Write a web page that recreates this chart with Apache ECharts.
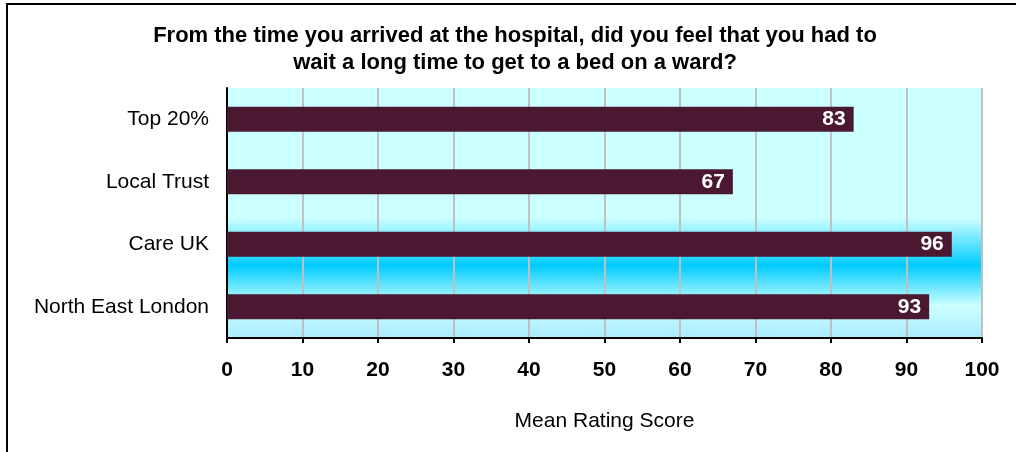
<!DOCTYPE html>
<html>
<head>
<meta charset="utf-8">
<script src="https://cdn.jsdelivr.net/npm/echarts@6/dist/echarts.min.js"></script>
<style>
  html, body { margin: 0; padding: 0; background: #fff; }
  #chart { width: 1016px; height: 452px; }
</style>
</head>
<body>
<div id="chart"></div>
<script>
// categories listed bottom-to-top (category y axis starts at the bottom)
const categories = ['North East London', 'Care UK', 'Local Trust', 'Top 20%'];
const scores = [93, 96, 67, 83];
const xMin = 0;
const xMax = 100;
const xStep = 10;

const font = "'Liberation Sans', Arial, sans-serif";

var chart = echarts.init(document.getElementById('chart'));

chart.setOption({
    animation: false,
    title: {
        text: 'From the time you arrived at the hospital, did you feel that you had to\nwait a long time to get to a bed on a ward?',
        left: 515,
        top: 22,
        padding: 0,
        textAlign: 'center',
        textStyle: {
            fontFamily: font,
            fontSize: 22,
            fontWeight: 'bold',
            color: '#000',
            lineHeight: 27
        }
    },
    graphic: [
        {
            type: 'rect',
            shape: { x: 7, y: 4, width: 1200, height: 600 },
            style: { fill: 'none', stroke: '#000', lineWidth: 2 },
            silent: true
        }
    ],
    grid: {
        left: 227,
        right: 34,
        top: 88,
        bottom: 114,
        show: true,
        borderWidth: 0,
        backgroundColor: new echarts.graphic.LinearGradient(0, 0, 0, 1, [
            { offset: 0, color: '#ccffff' },
            { offset: 0.52, color: '#ccffff' },
            { offset: 0.71, color: '#00ccff' },
            { offset: 0.87, color: '#ccffff' },
            { offset: 1, color: '#a8ecff' }
        ])
    },
    xAxis: {
        type: 'value',
        min: xMin,
        max: xMax,
        interval: xStep,
        name: 'Mean Rating Score',
        nameLocation: 'middle',
        nameGap: 73,
        nameTextStyle: { fontFamily: font, fontSize: 21, color: '#000' },
        axisLine: { show: true, lineStyle: { color: '#000', width: 2 } },
        axisTick: { show: true, length: 5, lineStyle: { color: '#000', width: 2 } },
        axisLabel: { fontFamily: font, fontSize: 21, fontWeight: 'bold', color: '#000', margin: 22 },
        splitLine: { show: true, lineStyle: { color: '#c0c0c0', width: 2 } }
    },
    yAxis: {
        type: 'category',
        data: categories,
        axisLine: { show: true, lineStyle: { color: '#000', width: 2 } },
        axisTick: { show: false },
        axisLabel: { fontFamily: font, fontSize: 21, color: '#000', margin: 18 },
        splitLine: { show: false }
    },
    series: [
        {
            type: 'bar',
            data: scores,
            barWidth: 25,
            itemStyle: { color: '#4a1931' },
            label: {
                show: true,
                position: 'insideRight',
                distance: 8,
                color: '#fff',
                fontFamily: font,
                fontSize: 21,
                fontWeight: 'bold'
            }
        }
    ]
});
</script>
</body>
</html>
